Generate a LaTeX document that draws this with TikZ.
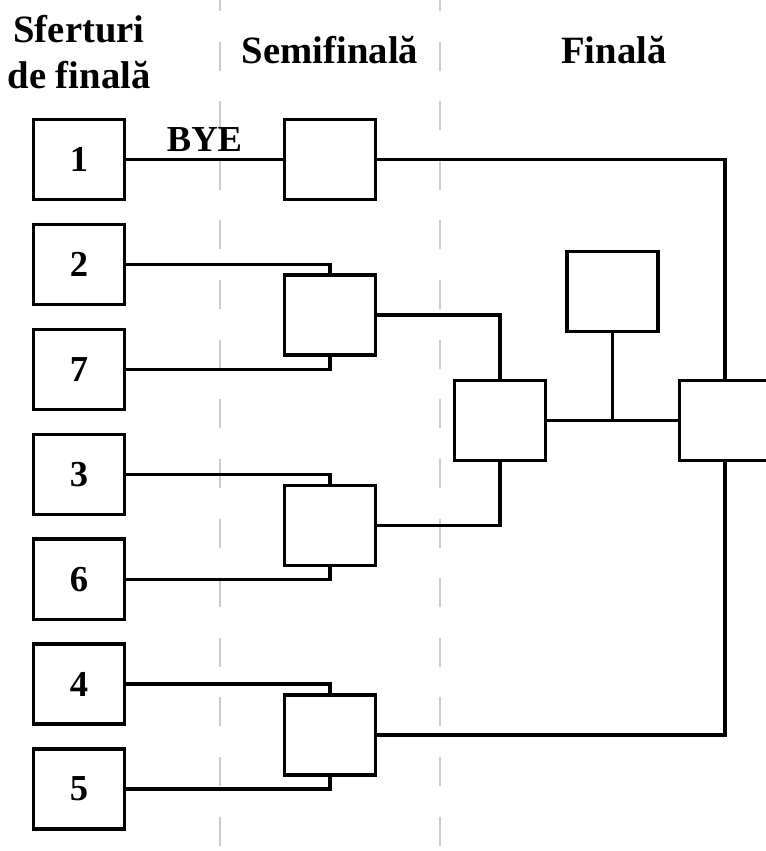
\documentclass[tikz,border=0pt]{standalone}
\usepackage{fontspec}
\setmainfont{Liberation Serif}

\begin{document}
\begin{tikzpicture}[x=0.025cm, y=-0.025cm,
    box/.style={draw, line width=0.08cm, fill=white, minimum width=2.275cm, minimum height=2cm, inner sep=0pt, font=\fontsize{26}{31}\selectfont\bfseries},
    conn/.style={draw, line width=0.08cm},
    head/.style={font=\fontsize{27.5}{32.6}\selectfont\bfseries, align=center, anchor=base},
    sep/.style={draw=C3, line width=0.045cm, dash pattern=on 0.725cm off 0.765cm}]
    \definecolor{C3}{HTML}{cccccc}

    \useasboundingbox (0,0) rectangle (766,851);

    % round separators
    \path[sep] (220,-18) -- (220,851);
    \path[sep] (440,-18) -- (440,851);

    \node[head] (hq) at (79,88) {Sferturi\\de finală};
    \node[head] (hs) at (330,63) {Semifinală};
    \node[head] (hf) at (614,63) {Finală};

    \node[box] (q1) at (79,159.5) {1};
    \node[box] (q2) at (79,264.4) {2};
    \node[box] (q7) at (79,369.3) {7};
    \node[box] (q3) at (79,474.2) {3};
    \node[box] (q6) at (79,579.1) {6};
    \node[box] (q4) at (79,684) {4};
    \node[box] (q5) at (79,789) {5};

    \node[box] (s1) at (330,159.5) {};
    \node[box] (s2) at (330,315) {};
    \node[box] (s3) at (330,525.5) {};
    \node[box] (s4) at (330,735) {};

    \node[box] (f1) at (500,420.5) {};
    \node[box] (ft) at (612.5,291.5) {};
    \node[box] (fr) at (725,420.5) {};

    \path[conn] (q1) -- node[above=0.15cm, inner sep=0pt, font=\fontsize{26}{31}\selectfont\bfseries] (bye) {BYE} (s1);
    \path[conn] (q2.east) -| (s2.north);
    \path[conn] (q7.east) -| (s2.south);
    \path[conn] (q3.east) -| (s3.north);
    \path[conn] (q6.east) -| (s3.south);
    \path[conn] (q4.east) -| (s4.north);
    \path[conn] (q5.east) -| (s4.south);

    \path[conn] (s2.east) -| (f1.north);
    \path[conn] (s3.east) -| (f1.south);
    \path[conn] (s1.east) -| (fr.north);
    \path[conn] (s4.east) -| (fr.south);
    \path[conn] (f1.east) -- (fr.west);
    \path[conn] (ft.south) -- (ft.south |- f1.east);

\end{tikzpicture}
\end{document}
